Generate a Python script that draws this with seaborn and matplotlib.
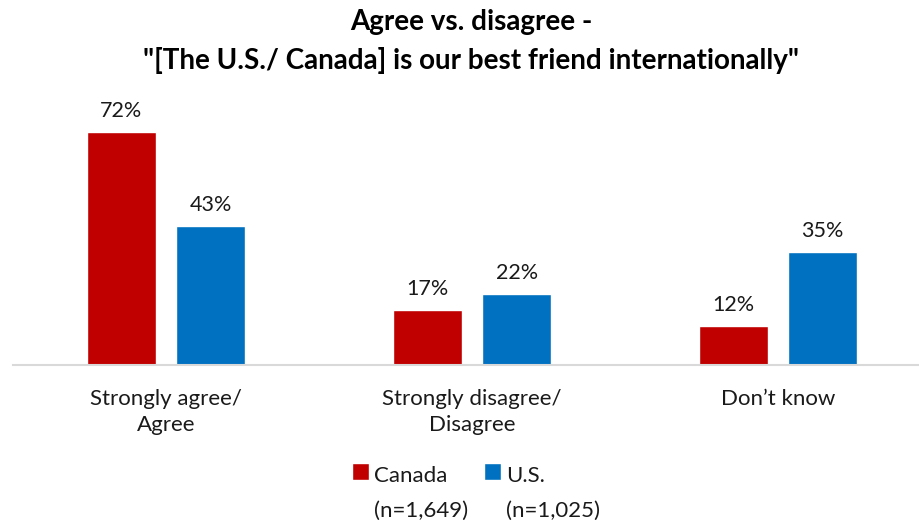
import pandas as pd
import seaborn as sns
import matplotlib.pyplot as plt
from matplotlib.patches import Rectangle
from matplotlib.legend_handler import HandlerPatch

categories = ['Strongly agree/\nAgree', 'Strongly disagree/\nDisagree', 'Don\u2019t know']
canada = [72, 17, 12]
us = [43, 22, 35]
series = ['Canada\n(n=1,649)', 'U.S.\n(n=1,025)']
colors = ['#C00000', '#0070C0']

df = pd.DataFrame({
    'category': categories * 2,
    'value': canada + us,
    'series': [series[0]] * 3 + [series[1]] * 3,
})

sns.set_style('white')
plt.rcParams['font.family'] = ['Lato', 'DejaVu Sans']

fig = plt.figure(figsize=(9.19, 5.2), dpi=100)
# axes runs a little past the right edge, like the original
ax = fig.add_axes([13 / 919, 155 / 520, 918 / 919, 259 / 520])

sns.barplot(ax=ax, data=df, x='category', y='value', hue='series',
            palette=colors, width=0.583, gap=0.227, saturation=1)

for c in ax.containers:
    ax.bar_label(c, labels=[f'{v:.0f}%' for v in c.datavalues],
                 padding=8, fontsize=15.5, color='#1a1a1a')

ax.set_ylim(0, 80)
ax.set_xlim(-0.5, 2.5)
ax.set_xlabel('')
ax.set_ylabel('')
ax.set_yticks([])
for s in ['top', 'right', 'left']:
    ax.spines[s].set_visible(False)
ax.spines['bottom'].set_color('#D9D9D9')
ax.spines['bottom'].set_linewidth(1.5)
ax.tick_params(axis='x', length=0, pad=17, labelsize=16, labelcolor='#1a1a1a')
for lab in ax.get_xticklabels():
    lab.set_linespacing(1.4)


"""legend square sits level with the first line of its label"""
def top_square(legend, orig_handle, xdescent, ydescent, width, height, fontsize):
    return Rectangle((-xdescent, -ydescent + 16), width, height)


handles, labels = ax.get_legend_handles_labels()
ax.get_legend().remove()
leg = fig.legend(handles, labels, loc='lower center', bbox_to_anchor=(0.518, -0.027),
                 ncol=2, frameon=False, fontsize=16, handlelength=0.75,
                 handleheight=0.75, handletextpad=0.25, columnspacing=0.7,
                 borderaxespad=0.2, labelcolor='#1a1a1a',
                 handler_map={h: HandlerPatch(patch_func=top_square) for h in handles})
for t in leg.get_texts():
    t.set_linespacing(1.9)

fig.suptitle('Agree vs. disagree -\n"[The U.S./ Canada] is our best friend internationally"',
             x=0.513, y=0.982, fontsize=20, fontweight='bold', color='#000000',
             linespacing=1.55)

fig.savefig('out.png', dpi=100)
